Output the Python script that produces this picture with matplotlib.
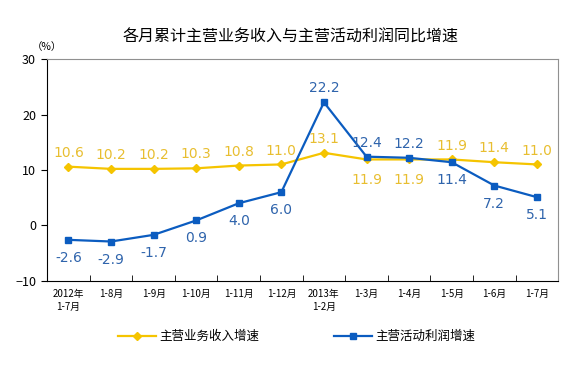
import numpy as np
import matplotlib.pyplot as plt

plt.rcParams['font.family'] = ['Noto Sans CJK SC', 'DejaVu Sans']

# datos
meses = ['2012年\n1-7月', '1-8月', '1-9月', '1-10月', '1-11月', '1-12月',
         '2013年\n1-2月', '1-3月', '1-4月', '1-5月', '1-6月', '1-7月']
ingresos = [10.6, 10.2, 10.2, 10.3, 10.8, 11.0, 13.1, 11.9, 11.9, 11.9, 11.4, 11.0]
beneficio = [-2.6, -2.9, -1.7, 0.9, 4.0, 6.0, 22.2, 12.4, 12.2, 11.4, 7.2, 5.1]
arriba_ing = [True] * 7 + [False, False, True, True, True]
arriba_ben = [False] * 6 + [True, True, True, False, False, False]

amarillo = '#F5C400'
azul = '#0B5CC0'

fig = plt.figure(figsize=(5.82, 3.74), dpi=100)
ax = fig.add_axes([0.081, 0.249, 0.878, 0.593])

x = np.arange(len(meses))
ax.plot(x, ingresos, color=amarillo, lw=1.6, marker='D', ms=4, label='主营业务收入增速')
ax.plot(x, beneficio, color=azul, lw=1.6, marker='s', ms=4.5, label='主营活动利润增速')

for i in x:
    dy = 10 if arriba_ing[i] else -15
    ax.annotate(f'{ingresos[i]:.1f}', (i, ingresos[i]), xytext=(0, dy), textcoords='offset points',
                ha='center', va='center', color='#E8BE30', fontsize=10, family='DejaVu Sans')
    dy = 10 if arriba_ben[i] else -13
    ax.annotate(f'{beneficio[i]:.1f}', (i, beneficio[i]), xytext=(0, dy), textcoords='offset points',
                ha='center', va='center', color='#2F64AC', fontsize=10, family='DejaVu Sans')

ax.set_xlim(-0.5, len(meses) - 0.5)
ax.set_ylim(-10, 30)
ax.set_yticks([-10, 0, 10, 20, 30])
ax.tick_params(axis='y', direction='out', length=4, labelsize=9, pad=4)
ax.set_xticks(x)
ax.set_xticklabels(meses, fontsize=7, linespacing=1.3)
ax.set_xticks(np.arange(0.5, len(meses) - 0.5), minor=True)
ax.tick_params(axis='x', which='major', length=0, pad=6)
ax.tick_params(axis='x', which='minor', direction='in', length=4)
for lado in ['top', 'right']:
    ax.spines[lado].set_color('#909090')
ax.spines['left'].set_color('black')
ax.spines['bottom'].set_color('black')

ax.text(0.0, 1.03, '（%）', transform=ax.transAxes, fontsize=7.5, ha='center', va='bottom')
fig.text(0.5, 0.9, '各月累计主营业务收入与主营活动利润同比增速', ha='center', va='center',
         fontsize=11.5, fontweight='medium')

fig.legend(loc='center', bbox_to_anchor=(0.51, 0.1), ncol=2, frameon=False, fontsize=9,
           columnspacing=6, handlelength=3, handletextpad=0.3)

fig.savefig('out.png', dpi=100)
